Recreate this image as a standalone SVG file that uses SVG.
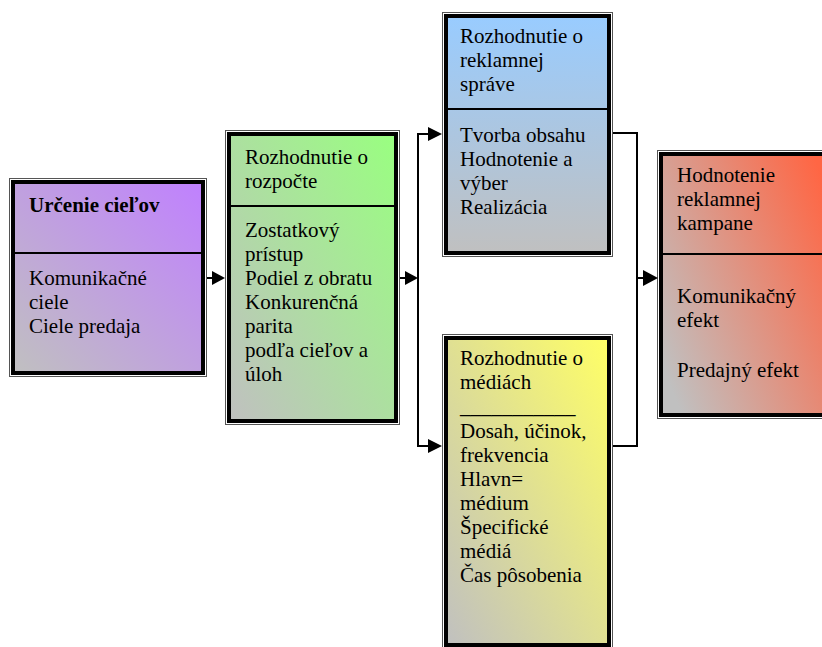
<svg xmlns="http://www.w3.org/2000/svg" width="822" height="647" viewBox="0 0 822 647">
<style>
.outer{fill:#fff;stroke:#555;stroke-width:1}
.inner{stroke:#000;stroke-width:4}
.div{stroke:#000;stroke-width:2}
text{font-family:"Liberation Serif","Times New Roman",serif;font-size:21px;fill:#000}
.b{font-weight:bold}
.con line{stroke:#000;stroke-width:2}
.con polygon{fill:#000}
</style>
<defs>
<linearGradient id="g1" x1="0" y1="1" x2="1" y2="0"><stop offset="0" stop-color="#c0c0c0"/><stop offset="1" stop-color="#c080ff"/></linearGradient>
<linearGradient id="g2" x1="0" y1="1" x2="1" y2="0"><stop offset="0" stop-color="#c0c0c0"/><stop offset="1" stop-color="#99ff80"/></linearGradient>
<linearGradient id="g3" x1="0" y1="0" x2="0" y2="1"><stop offset="0" stop-color="#99ccff"/><stop offset="1" stop-color="#c0c0c0"/></linearGradient>
<linearGradient id="g4" x1="0" y1="1" x2="1" y2="0"><stop offset="0" stop-color="#c0c0c0"/><stop offset="1" stop-color="#ffff66"/></linearGradient>
<linearGradient id="g5" x1="0" y1="0.8" x2="1" y2="0.2"><stop offset="0" stop-color="#c0c0c0"/><stop offset="1" stop-color="#ff6644"/></linearGradient>
</defs>

<g id="n1">
<rect class="outer" x="9.5" y="178.5" width="197" height="198"/>
<rect class="inner" x="13" y="182" width="190" height="191" fill="url(#g1)"/>
<line class="div" x1="13" y1="253" x2="203" y2="253"/>
<text class="b" x="29" y="212">Určenie cieľov</text>
<text x="29" y="285">Komunikačné</text>
<text x="29" y="309">ciele</text>
<text x="29" y="333">Ciele predaja</text>
</g>

<g id="n2">
<rect class="outer" x="225.5" y="130.5" width="174" height="294"/>
<rect class="inner" x="229" y="134" width="167" height="287" fill="url(#g2)"/>
<line class="div" x1="229" y1="206" x2="396" y2="206"/>
<text x="245" y="164">Rozhodnutie o</text>
<text x="245" y="188">rozpočte</text>
<text x="245" y="237">Zostatkový</text>
<text x="245" y="261">prístup</text>
<text x="245" y="285">Podiel z obratu</text>
<text x="245" y="309">Konkurenčná</text>
<text x="245" y="333">parita</text>
<text x="245" y="357">podľa cieľov a</text>
<text x="245" y="381">úloh</text>
</g>

<g id="n3">
<rect class="outer" x="442.5" y="12.5" width="170" height="244"/>
<rect class="inner" x="446" y="16" width="163" height="237" fill="url(#g3)"/>
<line class="div" x1="446" y1="109" x2="609" y2="109"/>
<text x="460" y="43">Rozhodnutie o</text>
<text x="460" y="67">reklamnej</text>
<text x="460" y="91">správe</text>
<text x="460" y="142">Tvorba obsahu</text>
<text x="460" y="166">Hodnotenie a</text>
<text x="460" y="190">výber</text>
<text x="460" y="214">Realizácia</text>
</g>

<g id="n4">
<rect class="outer" x="442.5" y="334.5" width="170" height="320"/>
<rect class="inner" x="446" y="338" width="163" height="307" fill="url(#g4)"/>
<text x="460" y="365">Rozhodnutie o</text>
<text x="460" y="389">médiách</text>
<text x="460" y="413">___________</text>
<text x="460" y="438">Dosah, účinok,</text>
<text x="460" y="462">frekvencia</text>
<text x="460" y="486">Hlavn=</text>
<text x="460" y="510">médium</text>
<text x="460" y="534">Špecifické</text>
<text x="460" y="558">médiá</text>
<text x="460" y="582">Čas pôsobenia</text>
</g>

<g id="n5">
<rect class="outer" x="657.5" y="150.5" width="180" height="268"/>
<rect class="inner" x="661" y="154" width="173" height="261" fill="url(#g5)"/>
<line class="div" x1="661" y1="254" x2="834" y2="254"/>
<text x="677" y="182">Hodnotenie</text>
<text x="677" y="206">reklamnej</text>
<text x="677" y="230">kampane</text>
<text x="677" y="303">Komunikačný</text>
<text x="677" y="327">efekt</text>
<text x="677" y="377">Predajný efekt</text>
</g>

<g id="connectors" class="con">
<line x1="207" y1="278" x2="213" y2="278"/>
<polygon points="212,271 225,278 212,285"/>
<line x1="400" y1="278" x2="406" y2="278"/>
<polygon points="405,271 418,278 405,285"/>
<line x1="418" y1="133" x2="418" y2="447"/>
<line x1="417" y1="134" x2="430" y2="134"/>
<polygon points="428,127 442,134 428,141"/>
<line x1="417" y1="446" x2="430" y2="446"/>
<polygon points="428,439 442,446 428,453"/>
<line x1="613" y1="133" x2="638" y2="133"/>
<line x1="613" y1="446" x2="638" y2="446"/>
<line x1="637" y1="132" x2="637" y2="447"/>
<line x1="637" y1="278" x2="645" y2="278"/>
<polygon points="643,270 658,278 643,286"/>
</g>
</svg>
